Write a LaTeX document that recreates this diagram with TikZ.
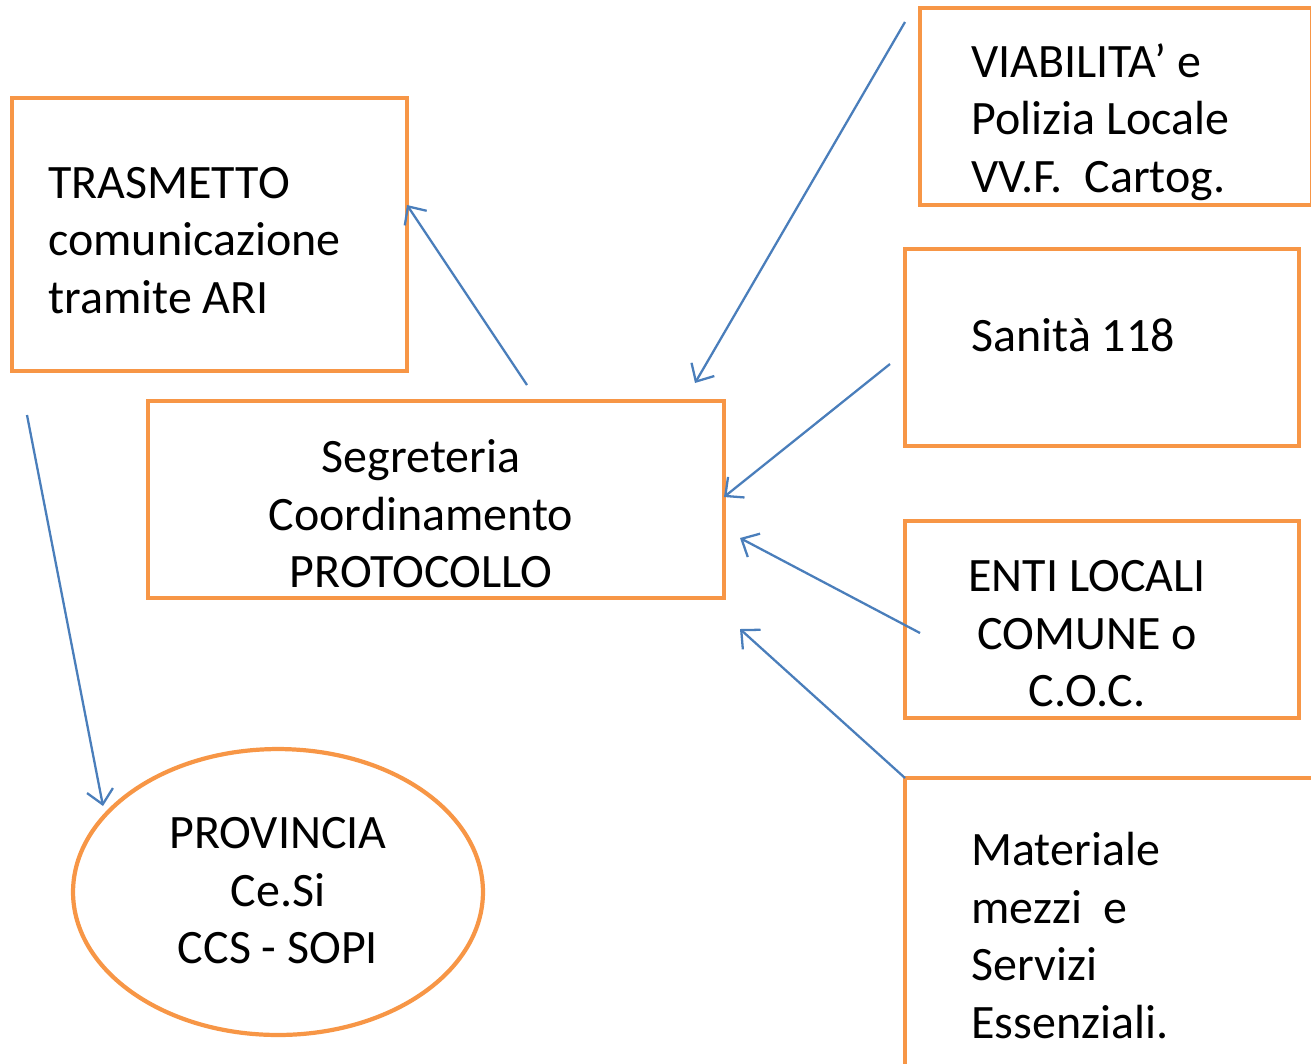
\documentclass[tikz,border=0pt]{standalone}
\usepackage{fontspec}
\setmainfont{Carlito}
\usetikzlibrary{shapes.geometric,arrows.meta}

\definecolor{boxorange}{RGB}{247,150,70}
\definecolor{linkblue}{RGB}{74,126,187}

\tikzset{
  ufficio/.style={draw=boxorange,line width=2.4pt,inner sep=0pt},
  testo/.style={font=\fontsize{27.3}{32.7}\selectfont,inner sep=0pt},
  freccia/.style={draw=linkblue,line width=1.3pt,
    -{Straight Barb[length=8pt,width=15pt]}}
}

\begin{document}
\begin{tikzpicture}[x=0.02cm,y=-0.02cm]
\useasboundingbox (0,0) rectangle (1311,1063);
\clip (0,0) rectangle (1311,1063);

% riquadri
\node[ufficio,minimum width=7.90cm,minimum height=5.46cm] (trasm) at (209.5,234.5) {};
\node[ufficio,minimum width=11.52cm,minimum height=3.94cm] (segr) at (436,499.5) {};
\node[ufficio,minimum width=7.84cm,minimum height=3.94cm] (viab) at (1116,106.5) {};
\node[ufficio,minimum width=7.88cm,minimum height=3.94cm] (sanita) at (1102,347.5) {};
\node[ufficio,minimum width=7.88cm,minimum height=3.94cm] (enti) at (1102,619.5) {};
\node[ufficio,minimum width=8.60cm,minimum height=6.80cm] (mater) at (1120,948) {};
\node[ufficio,ellipse,minimum width=8.20cm,minimum height=5.72cm] (prov) at (278,892) {};

% testi
\node[testo,align=left,anchor=west] (trasmT) at (48,240.5) {TRASMETTO\\comunicazione\\tramite ARI};
\node[testo,align=center] (segrT) at (421,514) {Segreteria\\Coordinamento\\PROTOCOLLO};
\node[testo,align=left,anchor=west] (viabT) at (971,122) {VIABILITA’ e\\Polizia Locale\\VV.F.\ \ Cartog.};
\node[testo,anchor=west] (sanitaT) at (971,335) {Sanità 118};
\node[testo,align=center] (entiT) at (1087,634) {ENTI LOCALI\\COMUNE o\\C.O.C.};
\node[testo,align=left,anchor=west] (materT) at (971,935.5) {Materiale\\mezzi\ \ e\\Servizi\\Essenziali.};
\node[testo,align=center] (provT) at (278,891) {PROVINCIA\\Ce.Si\\CCS - SOPI};

% frecce
\coordinate (c1) at (527,385);
\coordinate (c2) at (407,205);
\coordinate (c3) at (905,22);
\coordinate (c4) at (695,383);
\coordinate (c5) at (890,364);
\coordinate (c6) at (724,497);
\coordinate (c7) at (920,633);
\coordinate (c8) at (740,538);
\coordinate (c9) at (905,778);
\coordinate (c10) at (740,629);
\coordinate (c11) at (27,415);
\coordinate (c12) at (103,806);

\draw[freccia] (c1) -- (c2);
\draw[freccia] (c3) -- (c4);
\draw[freccia] (c5) -- (c6);
\draw[freccia] (c7) -- (c8);
\draw[freccia] (c9) -- (c10);
\draw[freccia] (c11) -- (c12);

\end{tikzpicture}
\end{document}
